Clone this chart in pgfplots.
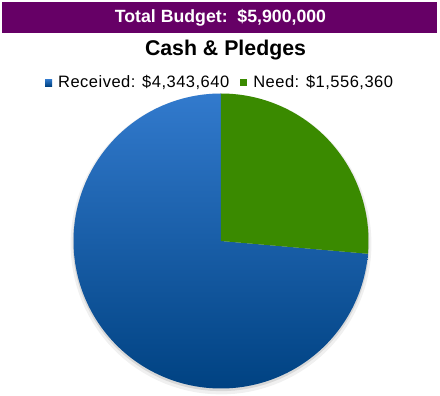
\documentclass[border=0pt]{standalone}
\usepackage{fontspec}
\setmainfont{Liberation Sans}
\usepackage{pgfplots}
\pgfplotsset{compat=1.18}
\definecolor{banner}{RGB}{102,0,102}
\definecolor{needgreen}{RGB}{58,138,0}
\definecolor{blueTop}{RGB}{50,122,205}
\definecolor{blueMid}{RGB}{0,92,170}
\definecolor{blueBot}{RGB}{0,66,130}
\begin{document}
\begin{tikzpicture}
\useasboundingbox (0pt,0pt) rectangle (440pt,396pt);
\fill[banner] (2pt,363pt) rectangle (437pt,394pt);
\node[text=white, font=\bfseries\fontsize{17.7}{19}\selectfont] at (220.5pt,378.5pt) {Total Budget:\ \ \$5,900,000};
\node[font=\bfseries\fontsize{21.3}{23}\selectfont] at (225.5pt,345.5pt) {Cash \& Pledges};
\edef\recv{4343640}
\edef\need{1556360}
\edef\needang{\fpeval{360*\need/(\recv+\need)}}
\begin{axis}[at={(73.5pt,7.5pt)}, anchor=south west, scale only axis,
  width=295pt, height=295pt, xmin=-1, xmax=1, ymin=-1, ymax=1,
  hide axis, clip=false,
  legend style={overlay, at={(0.497,1.037)}, anchor=center, draw=none, fill=none,
    font=\addfontfeature{LetterSpace=3}\fontsize{16.5}{18}\selectfont, inner sep=0pt,
    /tikz/every even column/.append style={column sep=9pt}},
  legend columns=2, legend cell align=left]
\addplot[forget plot, overlay, draw=none, fill=black, fill opacity=0.06, domain=0:360, samples=120] ({1.02*cos(x)},{-0.02+1.02*sin(x)});
\addplot[forget plot, overlay, draw=none, fill=black, fill opacity=0.10, domain=0:360, samples=120] ({1.006*cos(x)},{-0.012+1.006*sin(x)});
\addplot[draw=none, top color=blueTop, middle color=blueMid, bottom color=blueBot,
  domain={-270}:{90-\needang}, samples=160,
  legend image code/.code={\fill[blueMid] (0pt,-3.5pt) rectangle (7pt,3.5pt); \path (11pt,0pt);}]
  ({cos(x)},{sin(x)}) -- (0,0) -- cycle;
\addlegendentry{Received: \$4,343,640}
\addplot[draw=none, fill=needgreen,
  domain={90-\needang}:90, samples=60,
  legend image code/.code={\fill[needgreen] (0pt,-3.5pt) rectangle (7pt,3.5pt); \path (11pt,0pt);}]
  ({cos(x)},{sin(x)}) -- (0,0) -- cycle;
\addlegendentry{Need: \$1,556,360}
\end{axis}
\end{tikzpicture}
\end{document}
